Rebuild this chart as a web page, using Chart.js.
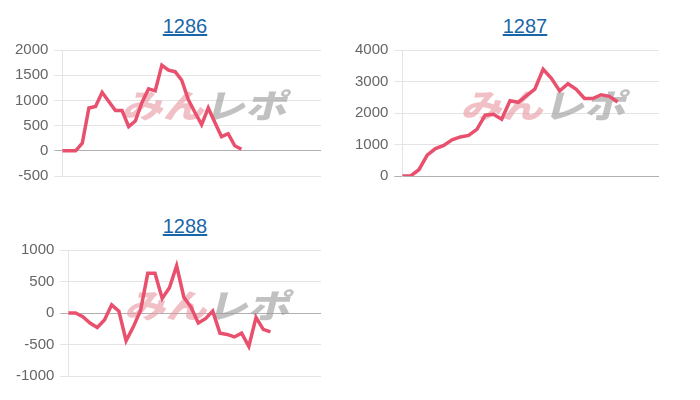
<!DOCTYPE html>
<html lang="ja">
  <head>
    <meta charset="utf-8" />
    <title>差枚グラフ</title>
    <style>
      * {
        margin: 0;
        padding: 0;
        font-family: "Liberation Sans", Arial, sans-serif;
      }
      body {
        width: 700px;
        height: 400px;
        background: #fff;
        position: relative;
        overflow: hidden;
      }
      .title {
        position: absolute;
        width: 200px;
        text-align: center;
        font-size: 20px;
        line-height: 24px;
      }
      .title a {
        color: #1a66a8;
        text-decoration: underline;
      }
      .chartBox {
        position: absolute;
      }
    </style>
  </head>
  <body>
    <div class="title" style="left: 85px; top: 14px"><a href="#">1286</a></div>
    <div class="title" style="left: 425px; top: 14px"><a href="#">1287</a></div>
    <div class="title" style="left: 85px; top: 214px"><a href="#">1288</a></div>

    <div class="chartBox" style="left: 9px; top: 35px; width: 312px; height: 156px">
      <canvas id="chart1286"></canvas>
    </div>
    <div class="chartBox" style="left: 349px; top: 35px; width: 310px; height: 156px">
      <canvas id="chart1287"></canvas>
    </div>
    <div class="chartBox" style="left: 10px; top: 235px; width: 311px; height: 156px">
      <canvas id="chart1288"></canvas>
    </div>

    <script src="https://cdn.jsdelivr.net/npm/chart.js"></script>

    <script>
      // number of x slots per machine (hidden axis)
      const slots1286 = 40;
      const slots1287 = 32;
      const slots1288 = 36;

      // 差枚 values
      const data1286 = [
        0, 0, 0, 150, 850, 880, 1160, 980, 800, 800, 480, 590, 960, 1230,
        1190, 1700, 1600, 1570, 1400, 1010, 760, 520, 850, 560, 280, 340, 100,
        30,
      ];
      const data1287 = [
        0, 0, 200, 660, 870, 970, 1150, 1240, 1290, 1480, 1930, 1960, 1800,
        2390, 2340, 2550, 2760, 3390, 3100, 2700, 2930, 2750, 2460, 2460, 2580,
        2530, 2350,
      ];
      const data1288 = [
        0, 0, -60, -160, -230, -110, 130, 30, -440, -220, 40, 630, 630, 230,
        400, 750, 250, 90, -160, -90, 30, -320, -340, -380, -320, -530, -70,
        -260, -300,
      ];

      // y axis ranges
      const range1286 = { min: -500, max: 2000, step: 500 };
      const range1287 = { min: 0, max: 4000, step: 1000 };
      const range1288 = { min: -1000, max: 1000, step: 500 };

      // watermark drawn behind the line
      const watermark = {
        id: "watermark",
        beforeDatasetsDraw(chart) {
          const { ctx, chartArea } = chart;
          const cx = chartArea.left + chartArea.width * 0.55;
          const cy = chartArea.top + chartArea.height * 0.44;
          ctx.save();
          ctx.translate(cx, cy);
          ctx.transform(1.25, 0, -0.25, 1, 0, 0);
          ctx.font = "900 33px 'Noto Sans CJK JP'";
          ctx.textBaseline = "middle";
          ctx.textAlign = "right";
          ctx.fillStyle = "rgba(232, 150, 160, 0.6)";
          ctx.fillText("みん", 2, 0);
          ctx.textAlign = "left";
          ctx.fillStyle = "rgba(160, 160, 160, 0.65)";
          ctx.fillText("レポ", 2, 0);
          ctx.restore();
        },
      };

      const makeChart = (id, slots, values, range) => {
        const labels = Array.from({ length: slots }, (_, i) => String(i + 1));
        return new Chart(document.getElementById(id), {
          type: "line",
          data: {
            labels: labels,
            datasets: [
              {
                data: values,
                borderColor: "#e9506d",
                borderWidth: 3.5,
                pointRadius: 0,
                tension: 0,
                fill: false,
              },
            ],
          },
          options: {
            responsive: true,
            maintainAspectRatio: false,
            animation: false,
            plugins: {
              legend: { display: false },
              tooltip: { enabled: false },
            },
            scales: {
              x: { display: false },
              y: {
                min: range.min,
                max: range.max,
                ticks: {
                  stepSize: range.step,
                  color: "#666",
                  padding: 6,
                  font: { size: 15, family: "'Liberation Sans', Arial" },
                  callback: (v) => String(v),
                },
                grid: {
                  color: (c) =>
                    c.tick && c.tick.value === 0 ? "#b0b0b0" : "#e4e4e4",
                },
                border: { color: "#e4e4e4" },
              },
            },
          },
          plugins: [watermark],
        });
      };

      makeChart("chart1286", slots1286, data1286, range1286);
      makeChart("chart1287", slots1287, data1287, range1287);
      makeChart("chart1288", slots1288, data1288, range1288);
    </script>
  </body>
</html>
